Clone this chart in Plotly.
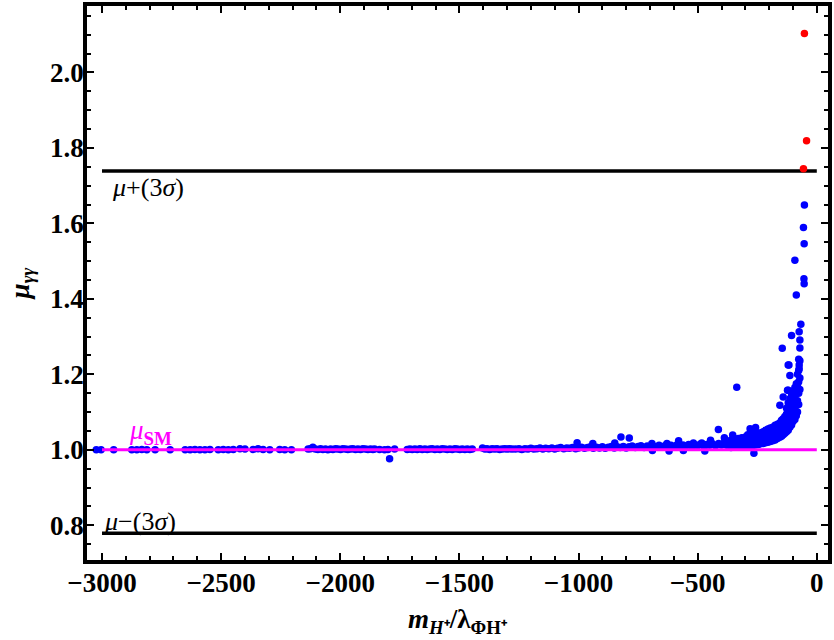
import plotly.graph_objects as go

# scan points, mu_gammagamma vs m_H+/lambda
blue_x = [
    -3024, -3004, -2951, -2875, -2854, -2833, -2812, -2777, -2714, -2651, -2630, -2610,
    -2589, -2568, -2547, -2512, -2491, -2470, -2449, -2421, -2400, -2366, -2345, -2324,
    -2296, -2254, -2233, -2205, -2135, -2125, -2115, -2105, -2094, -2083, -2073, -2062,
    -2052, -2041, -2031, -2020, -2010, -1999, -1989, -1978, -1968, -1957, -1947, -1936,
    -1926, -1915, -1905, -1894, -1884, -1873, -1863, -1856, -1835, -1814, -1793, -1800,
    -1772, -1719, -1708, -1698, -1687, -1677, -1666, -1656, -1645, -1635, -1624, -1614,
    -1603, -1593, -1582, -1572, -1561, -1551, -1540, -1530, -1519, -1509, -1498, -1488,
    -1477, -1467, -1456, -1446, -1403, -1393, -1384, -1373, -1363, -1352, -1342, -1331,
    -1321, -1310, -1300, -1290, -1279,
    -1265, -1250, -1238, -1225, -1212, -1200, -1188, -1175, -1162, -1150, -1138, -1125,
    -1112, -1100, -1088, -1075, -1062, -1050, -1038, -1025, -1012, -1006, -1000, -988,
    -975, -962, -950, -940, -938, -925, -912, -900, -888, -875, -862, -850, -848, -838,
    -825, -822, -812, -800, -787, -788, -775, -762, -750, -738, -725, -712, -700, -692,
    -688, -675, -662, -650, -638, -629, -625, -612, -600, -588, -580, -575, -562, -550,
    -538, -525, -518, -512, -500, -490, -483, -475, -462, -450, -446, -438, -425, -413,
    -412, -400, -388, -390, -378, -370, -690, -620, -560, -470,
    -360, -360, -360, -353, -345, -345, -345, -336, -330, -330, -330, -315, -315, -315,
    -300, -300, -300, -290, -290, -290, -280, -280, -280, -280, -270, -270, -270, -264,
    -257, -257, -257, -257, -245, -245, -245, -235, -235, -235, -225, -225, -225, -215,
    -215, -215, -205, -205, -205, -195, -195, -195, -185, -185, -185, -175, -175, -175,
    -165, -165, -165, -155, -155, -155, -155, -148, -148, -148, -141, -141, -141, -141,
    -134, -134, -134, -127, -127, -127, -127, -120, -120, -120, -120, -120, -113, -113,
    -113, -113, -113, -106, -106, -106, -106, -106, -100, -100, -100, -100, -92, -92,
    -92, -92, -92, -86, -86, -86, -86, -86, -81, -81, -81, -81, -76, -76, -76, -76, -76,
    -71, -71, -71, -71, -71, -74, -74, -74, -67, -145, -117, -123, -90, -120,
    -56, -52, -53, -54, -53,
]
blue_y = [
    1.000, 1.000, 1.000, 1.000, 1.000, 1.001, 1.000, 1.000, 1.000, 1.000, 1.000, 1.001,
    1.000, 1.000, 1.001, 1.000, 1.001, 1.000, 1.001, 1.003, 1.002, 1.001, 1.003, 1.001,
    1.000, 1.001, 1.000, 1.000, 1.002, 1.003, 1.007, 1.002, 1.001, 1.003, 1.001, 1.002,
    1.000, 1.002, 1.001, 1.003, 1.002, 1.001, 1.003, 1.002, 1.001, 1.002, 1.003, 1.001,
    1.002, 1.001, 1.003, 1.002, 1.001, 1.002, 1.001, 1.002, 1.001, 1.000, 0.976, 1.001,
    1.002, 1.001, 1.002, 1.001, 1.002, 1.001, 1.003, 1.001, 1.002, 1.001, 1.002, 1.003,
    1.001, 1.002, 1.001, 1.003, 1.002, 1.001, 1.002, 1.001, 1.003, 1.002, 1.001, 1.002,
    1.001, 1.002, 1.001, 1.002, 1.005, 1.002, 1.003, 1.001, 1.003, 1.002, 1.003, 1.001,
    1.002, 1.003, 1.002, 1.003, 1.002,
    1.002, 1.003, 1.001, 1.003, 1.002, 1.004, 1.002, 1.003, 1.005, 1.002, 1.004, 1.003,
    1.005, 1.002, 1.004, 1.006, 1.003, 1.005, 1.004, 1.006, 1.003, 1.019, 1.005, 1.007,
    1.004, 1.006, 1.008, 1.017, 1.004, 1.007, 1.005, 1.008, 1.004, 1.007, 1.009, 1.005,
    1.018, 1.008, 1.006, 1.034, 1.009, 1.005, 1.031, 1.008, 1.010, 1.006, 1.009, 1.011,
    1.006, 1.010, 1.007, 1.017, 1.011, 1.008, 1.012, 1.007, 1.011, 1.017, 1.009, 1.012,
    1.008, 1.013, 1.024, 1.009, 1.013, 1.010, 1.014, 1.009, 1.018, 1.013, 1.011, 1.015,
    1.018, 1.010, 1.014, 1.012, 1.025, 1.016, 1.011, 1.054, 1.017, 1.013, 1.032, 1.018,
    1.012, 1.019, 0.998, 0.997, 0.998, 0.997,
    1.006, 1.016, 1.026, 1.039, 1.008, 1.018, 1.028, 1.166, 1.007, 1.017, 1.030, 1.008,
    1.020, 1.032, 1.009, 1.021, 1.034, 1.010, 1.024, 1.040, 1.056, 1.012, 1.028, 1.042,
    1.011, 1.025, 1.045, 0.991, 1.059, 1.013, 1.030, 1.047, 1.014, 1.028, 1.042, 1.016,
    1.030, 1.045, 1.017, 1.033, 1.048, 1.019, 1.035, 1.052, 1.020, 1.037, 1.055, 1.022,
    1.040, 1.058, 1.024, 1.042, 1.060, 1.026, 1.045, 1.065, 1.030, 1.048, 1.068, 1.118,
    1.033, 1.052, 1.072, 1.036, 1.056, 1.078, 1.140, 1.040, 1.060, 1.082, 1.044, 1.064,
    1.088, 1.048, 1.070, 1.095, 1.110, 1.052, 1.075, 1.100, 1.125, 1.158, 1.060, 1.085,
    1.110, 1.135, 1.197, 1.066, 1.090, 1.120, 1.145, 1.303, 1.075, 1.100, 1.130, 1.155,
    1.080, 1.110, 1.140, 1.165, 1.502, 1.090, 1.120, 1.150, 1.175, 1.410, 1.100, 1.130,
    1.173, 1.200, 1.120, 1.150, 1.180, 1.210, 1.240, 1.160, 1.190, 1.236, 1.270, 1.291,
    1.215, 1.225, 1.313, 1.333, 1.269, 1.225, 1.158, 1.160, 1.225,
    1.589, 1.649, 1.546, 1.453, 1.440,
]

red_x = [-52, -43, -56]
red_y = [2.103, 1.819, 1.745]

# reference lines
line_x = [-3000, 0]
mu_sm = 1.0
mu_plus_3sigma = 1.739
mu_minus_3sigma = 0.779

serif = "Liberation Serif"

fig = go.Figure()

fig.add_scatter(x=blue_x, y=blue_y, mode="markers",
                marker=dict(color="#0000ff", size=7.5, line=dict(width=0)))
fig.add_scatter(x=line_x, y=[mu_plus_3sigma] * 2, mode="lines", line=dict(color="black", width=3.5))
fig.add_scatter(x=line_x, y=[mu_minus_3sigma] * 2, mode="lines", line=dict(color="black", width=3.5))
fig.add_scatter(x=line_x, y=[mu_sm] * 2, mode="lines", line=dict(color="#ff00ff", width=3))
fig.add_scatter(x=red_x, y=red_y, mode="markers",
                marker=dict(color="#ff0000", size=7.5, line=dict(width=0)))

# labels on the plot
fig.add_annotation(x=-2965, y=1.695, xref="x", yref="y", xanchor="left", yanchor="middle",
                   text="<i>μ</i>+(3<i>σ</i>)", showarrow=False,
                   font=dict(family=serif, size=26, color="black"))
fig.add_annotation(x=-3000, y=0.811, xref="x", yref="y", xanchor="left", yanchor="middle",
                   text="<i>μ</i>−(3<i>σ</i>)", showarrow=False,
                   font=dict(family=serif, size=26, color="black"))
fig.add_annotation(x=-2895, y=1.047, xref="x", yref="y", xanchor="left", yanchor="middle",
                   text="<i>μ</i><sub><b>SM</b></sub>", showarrow=False,
                   font=dict(family=serif, size=27, color="#ff00ff"))

axis_common = dict(
    showgrid=False, zeroline=False,
    showline=True, linecolor="black", linewidth=3.5, mirror="allticks",
    ticks="inside", ticklen=7, tickwidth=2, tickcolor="black",
    tickfont=dict(family=serif, size=27, color="black", weight="bold"),
)

fig.update_xaxes(
    range=[-3063, 47], tick0=0, dtick=500,
    minor=dict(dtick=100, ticks="inside", ticklen=4, tickwidth=1.5, tickcolor="black"),
    ticklabelstandoff=-4,
    title=dict(text="<b><i>m</i><sub><i>H</i>⁺</sub>/λ<sub>ΦH⁺</sub></b>",
               font=dict(family=serif, size=27, color="black"), standoff=13),
    **axis_common,
)
fig.update_yaxes(
    range=[0.708, 2.176], tick0=0, dtick=0.2, tickformat=".1f",
    minor=dict(dtick=0.05, ticks="inside", ticklen=4, tickwidth=1.5, tickcolor="black"),
    ticklabelstandoff=-6,
    title=dict(text="<b><i>μ</i><sub><i>γγ</i></sub></b>",
               font=dict(family=serif, size=27, color="black"), standoff=14),
    **axis_common,
)

fig.update_layout(
    width=834, height=640,
    margin=dict(l=87, r=4, t=2, b=80),
    plot_bgcolor="white", paper_bgcolor="white",
    showlegend=False,
)

# the page body has a default margin, drop it so the figure fills the window
fig.write_html("out.html", config={"displayModeBar": False},
               post_script="document.body.style.margin='0';document.body.style.overflow='hidden';")
